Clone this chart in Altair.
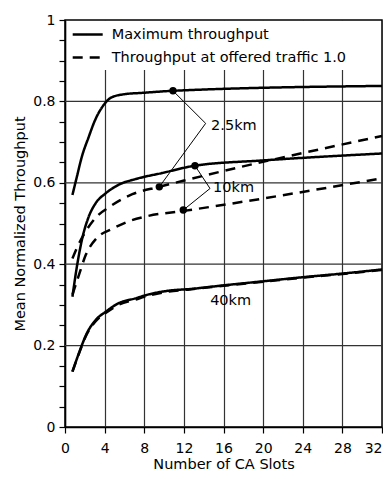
import altair as alt
import pandas as pd

# ---- data ----
max25_x = [0.75, 1.2, 1.7, 2.4, 3.0, 3.9, 4.7, 6.1, 7.8, 10.9, 32]
max25_y = [0.570, 0.615, 0.664, 0.713, 0.752, 0.791, 0.810, 0.818, 0.821, 0.826, 0.838]

off25_x = [0.75, 1.2, 2.0, 3.2, 4.5, 6.8, 9.5, 12.6, 32]
off25_y = [0.414, 0.440, 0.477, 0.517, 0.541, 0.572, 0.590, 0.609, 0.715]

max10_x = [0.75, 1.2, 1.7, 2.4, 3.1, 4.1, 5.4, 7.1, 9.8, 13.1, 20, 32]
max10_y = [0.320, 0.394, 0.459, 0.517, 0.550, 0.574, 0.595, 0.609, 0.624, 0.642, 0.655, 0.672]

off10_x = [0.75, 1.4, 2.1, 3.2, 4.7, 6.4, 8.3, 12.0, 32]
off10_y = [0.325, 0.373, 0.423, 0.464, 0.486, 0.505, 0.518, 0.531, 0.611]

max40_x = [0.75, 1.4, 2.2, 3.1, 4.1, 5.4, 7.1, 8.5, 10.5, 12.6, 16, 20, 24, 28, 32]
max40_y = [0.136, 0.181, 0.230, 0.263, 0.283, 0.304, 0.316, 0.326, 0.335, 0.339, 0.348, 0.358, 0.368, 0.377, 0.387]

off40_x = [0.75, 1.4, 2.2, 3.1, 4.1, 5.4, 7.1, 8.5, 10.5, 12.6, 16, 20, 24, 28, 32]
off40_y = [0.136, 0.180, 0.228, 0.260, 0.280, 0.300, 0.313, 0.323, 0.333, 0.338, 0.347, 0.357, 0.367, 0.376, 0.386]

kinds = ["Maximum throughput", "Throughput at offered traffic 1.0"]

# annotation pointers (dot -> vertex -> dot)
ann25_x = [10.9, 14.2, 9.52]
ann25_y = [0.826, 0.746, 0.590]
ann10_x = [13.12, 14.64, 11.94]
ann10_y = [0.642, 0.586, 0.533]

dot_x = [10.9, 9.52, 13.12, 11.94]
dot_y = [0.826, 0.590, 0.642, 0.533]

label_text = ["2.5km", "10km", "40km"]
label_x = [14.75, 14.95, 14.65]
label_y = [0.740, 0.587, 0.310]

x_ticks = list(range(0, 33, 4))
y_ticks = [round(i * 0.05, 2) for i in range(21)]
h_grid = [0.2, 0.4, 0.6, 0.8]

# ---- build tables ----
rows = []
def add(curve, kind, xs, ys):
    for i, (a, b) in enumerate(zip(xs, ys)):
        rows.append(dict(curve=curve, kind=kind, x=a, y=b, ord=i))

add("max25", kinds[0], max25_x, max25_y)
add("off25", kinds[1], off25_x, off25_y)
add("max10", kinds[0], max10_x, max10_y)
add("off10", kinds[1], off10_x, off10_y)
add("max40", kinds[0], max40_x, max40_y)
add("off40", kinds[1], off40_x, off40_y)
curves = pd.DataFrame(rows)

arows = []
for g, xs, ys in [("a25", ann25_x, ann25_y), ("a10", ann10_x, ann10_y)]:
    for i, (a, b) in enumerate(zip(xs, ys)):
        arows.append(dict(g=g, x=a, y=b, ord=i))
ann = pd.DataFrame(arows)

dots = pd.DataFrame({"x": dot_x, "y": dot_y})
labels = pd.DataFrame({"x": label_x, "y": label_y, "t": label_text})
hgrid = pd.DataFrame({"y": h_grid})

FONT = "DejaVu Sans"

xs = alt.Scale(domain=[0, 32], nice=False, zero=False)
ys = alt.Scale(domain=[0, 1], nice=False, zero=False)

xaxis = alt.Axis(title="Number of CA Slots", values=x_ticks, grid=True, format="d",
                 labelFlush=False, labelPadding=8, titlePadding=2,
                 labelAlign={"condition": {"test": "datum.value >= 32", "value": "right"},
                             "value": "center"})
yaxis = alt.Axis(title="Mean Normalized Throughput", values=y_ticks, grid=False,
                 labelExpr="(round(datum.value*100) % 20 == 0) ? format(datum.value, '~g') : ''",
                 labelFlush=False, labelPadding=4, titlePadding=5)

def X(f="x"):
    return alt.X(f"{f}:Q", scale=xs, axis=xaxis)

def Y(f="y"):
    return alt.Y(f"{f}:Q", scale=ys, axis=yaxis)

grid_layer = alt.Chart(hgrid).mark_rule(color="#333333", strokeWidth=1.2).encode(y=Y())

lines = alt.Chart(curves).mark_line(color="black", strokeWidth=2.5, interpolate="monotone").encode(
    x=X(), y=Y(),
    detail="curve:N",
    order="ord:Q",
    strokeDash=alt.StrokeDash(
        "kind:N",
        scale=alt.Scale(domain=kinds, range=[[1, 0], [10, 7]]),
        legend=alt.Legend(
            title=None, orient="none", legendX=9.2, legendY=1,
            symbolType="M-2.5,0H2.5", symbolSize=144, symbolStrokeWidth=2.5,
            symbolStrokeColor="black", symbolFillColor="transparent",
            labelFont=FONT, labelFontSize=14.5, labelColor="black", labelLimit=400,
            labelOffset=16.5, rowPadding=8, padding=6, fillColor="white",
        ),
    ),
)

ann_lines = alt.Chart(ann).mark_line(color="black", strokeWidth=1).encode(
    x=X(), y=Y(), detail="g:N", order="ord:Q"
)

dot_layer = alt.Chart(dots).mark_circle(color="black", size=55, opacity=1).encode(x=X(), y=Y())

text_layer = alt.Chart(labels).mark_text(align="left", baseline="middle", font=FONT,
                                         fontSize=14.5, color="black").encode(
    x=X(), y=Y(), text="t:N"
)

chart = alt.layer(grid_layer, lines, ann_lines, dot_layer, text_layer).properties(
    width=317, height=407,
    autosize=alt.AutoSizeParams(type="none"),
    padding={"left": 57, "top": 12, "right": 1, "bottom": 44},
).configure_view(
    stroke="black", strokeWidth=1.5
).configure_axis(
    domainColor="black", domainWidth=1.5, tickColor="black", tickWidth=1.2, tickSize=6,
    labelFont=FONT, labelFontSize=14, labelColor="black",
    titleFont=FONT, titleFontSize=14.5, titleFontWeight="normal", titleColor="black",
    gridColor="#333333", gridWidth=1.2, gridOpacity=1,
)

chart.save("out.html", embed_options={"renderer": "svg", "actions": False})
